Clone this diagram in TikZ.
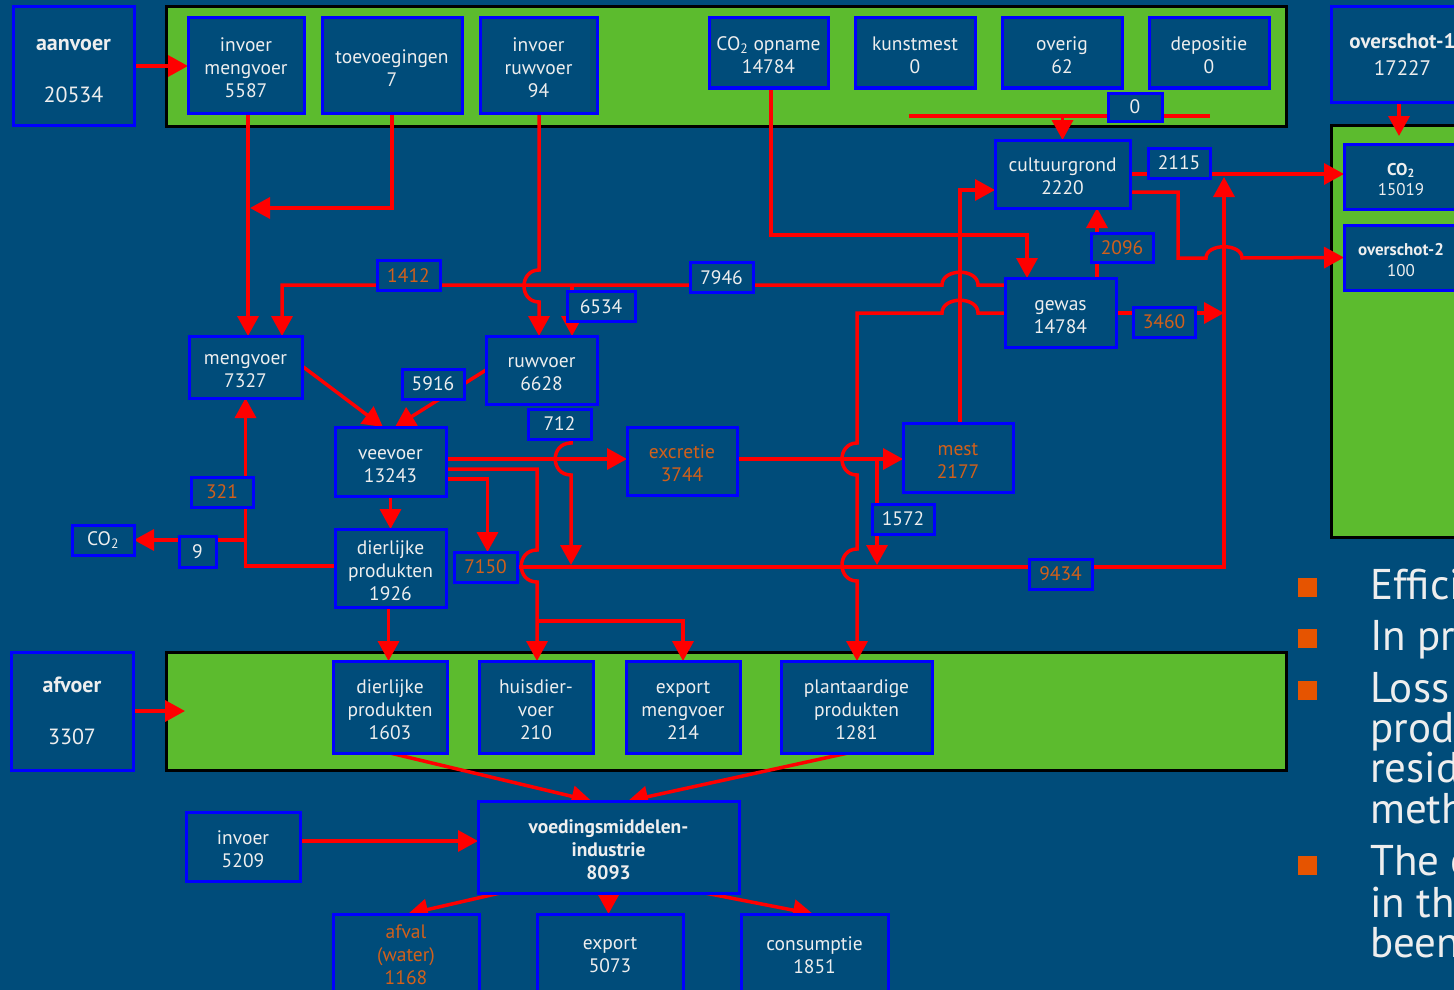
\documentclass[tikz,border=0pt]{standalone}
\usepackage{fontspec}
\setmainfont{PT Sans}
\usetikzlibrary{arrows.meta}
\definecolor{bg}{HTML}{004C7A}
\definecolor{grn}{HTML}{5CBB2E}
\definecolor{bblue}{HTML}{0000FF}
\definecolor{otxt}{HTML}{D2601A}
\definecolor{obul}{HTML}{E65400}
\definecolor{fg}{HTML}{EEEEEE}
\definecolor{lred}{HTML}{FF0000}
\pgfdeclarelayer{bgl}
\pgfdeclarelayer{edges}
\pgfsetlayers{bgl,edges,main}
\newcommand\lift[1][19pt]{\rule{0pt}{#1}}
\tikzset{
  box/.style={draw=bblue, fill=bg, line width=3pt, text=fg, align=center, inner sep=0pt, outer sep=0pt, font=\fontsize{19.5}{23}\selectfont},
  lab/.style={box, minimum width=62pt, minimum height=30pt},
  otext/.style={text=otxt},
  band/.style={fill=grn, draw=black, line width=3pt, inner sep=0pt, outer sep=0pt},
  conn/.style={draw=lred, line width=3.5pt},
  arr/.style={conn, -{Triangle[length=20pt,width=21pt]}},
  bultext/.style={anchor=base west, text=fg, inner sep=0pt, font=\fontsize{43}{50}\selectfont},
  bulsq/.style={fill=obul, draw=none, minimum size=19pt, inner sep=0pt},
}
\begin{document}
\begin{tikzpicture}[x=1pt,y=-1pt]
\useasboundingbox (0,0) rectangle (1454,990);
\begin{pgfonlayer}{bgl}
\fill[bg] (0,0) rectangle (1454,990);
\node[band, minimum width=1120pt, minimum height=119pt] (topband) at (726,66.5) {};
\node[band, minimum width=1120pt, minimum height=118pt] (botband) at (726,711) {};
\node[band, minimum width=143pt, minimum height=412pt] (rpanel) at (1402.5,331) {};
\end{pgfonlayer}

% main boxes
\node[box, minimum width=121pt, minimum height=118pt, font=\fontsize{22}{26}\selectfont] (aanv) at (73.5,66) {\lift[22pt]{\bfseries aanvoer}\\[26pt]20534};
\node[box, minimum width=116pt, minimum height=95pt] (invm) at (246,65.5) {\lift invoer\\mengvoer\\5587};
\node[box, minimum width=140pt, minimum height=95pt] (toev) at (392,65.5) {\lift toevoegingen\\7};
\node[box, minimum width=117pt, minimum height=95pt] (invr) at (538.5,65.5) {\lift invoer\\ruwvoer\\94};
\node[box, minimum width=119pt, minimum height=70pt] (co2op) at (768.5,53) {\lift CO\textsubscript{2} opname\\14784};
\node[box, minimum width=120pt, minimum height=70pt] (kunst) at (915,53) {\lift kunstmest\\0};
\node[box, minimum width=120pt, minimum height=70pt] (overig) at (1062,53) {\lift overig\\62};
\node[box, minimum width=120pt, minimum height=70pt] (depos) at (1209,53) {\lift depositie\\0};
\node[box, minimum width=54pt, minimum height=28pt] (l0) at (1135,107) {0};
\node[box, minimum width=143pt, minimum height=95pt, font=\fontsize{21}{27}\selectfont] (ovs1) at (1402.5,54.5) {{\bfseries overschot-1}\\17227};
\node[box, minimum width=114pt, minimum height=65pt, font=\fontsize{17}{20}\selectfont] (co2) at (1401,176.5) {\lift[18pt]{\bfseries CO\textsubscript{2}}\\15019};
\node[box, minimum width=114pt, minimum height=65pt, font=\fontsize{17}{21}\selectfont] (ovs2) at (1401,257.5) {\lift[17pt]{\bfseries overschot-2}\\100};
\node[box, minimum width=135pt, minimum height=68pt] (cult) at (1062.5,174) {\lift cultuurgrond\\2220};
\node[lab] (l2115) at (1179,163) {2115};
\node[lab, minimum height=29pt, otext] (l2096) at (1122,247.5) {2096};
\node[box, minimum width=111pt, minimum height=69pt] (gewas) at (1060.5,312.5) {\lift gewas\\14784};
\node[lab, otext] (l3460) at (1164,322) {3460};
\node[lab, minimum width=63pt, otext] (l1412) at (408.5,275.5) {1412};
\node[lab, minimum width=63pt] (l7946) at (721.5,277.5) {7946};
\node[lab, minimum width=68pt] (l6534) at (601,306.5) {6534};
\node[box, minimum width=111pt, minimum height=68pt] (ruwv) at (541.5,370) {\lift ruwvoer\\6628};
\node[box, minimum width=113pt, minimum height=62pt] (mengv) at (245.5,367) {\lift mengvoer\\7327};
\node[lab] (l5916) at (433,384) {5916};
\node[box, minimum width=111pt, minimum height=69pt] (veev) at (390.5,461.5) {\lift veevoer\\13243};
\node[lab, minimum width=63pt] (l712) at (559.5,424) {712};
\node[box, minimum width=110pt, minimum height=68pt, otext] (excr) at (682,461) {\lift excretie\\3744};
\node[box, minimum width=110pt, minimum height=69pt, otext] (mest) at (958,457.5) {\lift mest\\2177};
\node[lab] (l1572) at (903,519) {1572};
\node[lab, minimum width=63pt, otext] (l7150) at (485.5,567) {7150};
\node[lab, minimum width=63pt, otext] (l9434) at (1060.5,574) {9434};
\node[lab, otext] (l321) at (222,492) {321};
\node[lab, minimum width=37pt, minimum height=31pt] (l9) at (197.5,551.5) {9};
\node[lab] (co2l) at (103,540) {CO\textsubscript{2}};
\node[box, minimum width=111pt, minimum height=78pt] (dier) at (390.5,568) {\lift dierlijke\\produkten\\1926};
\node[box, minimum width=122pt, minimum height=118pt, font=\fontsize{22}{26}\selectfont] (afv) at (72,711) {{\bfseries afvoer}\\[26pt]3307};
\node[box, minimum width=114pt, minimum height=92pt] (dier2) at (390,707) {\lift dierlijke\\produkten\\1603};
\node[box, minimum width=114pt, minimum height=92pt] (huis) at (536,707) {\lift huisdier-\\voer\\210};
\node[box, minimum width=114pt, minimum height=92pt] (expm) at (683,707) {\lift export\\mengvoer\\214};
\node[box, minimum width=151pt, minimum height=92pt] (plant) at (856.5,707) {\lift plantaardige\\produkten\\1281};
\node[box, minimum width=261pt, minimum height=92pt, font=\fontsize{19.5}{23}\selectfont\bfseries] (voed) at (608.5,847) {\lift voedingsmiddelen-\\industrie\\8093};
\node[box, minimum width=114pt, minimum height=69pt] (invo) at (243,846.5) {\lift invoer\\5209};
\node[box, minimum width=146pt, minimum height=82pt, otext] (afval) at (406,955) {afval\\(water)\\1168};
\node[box, minimum width=146pt, minimum height=82pt] (expo) at (610,955) {export\\5073};
\node[box, minimum width=147pt, minimum height=82pt] (cons) at (814.5,955) {consumptie\\1851};

% bullets
\node[bulsq] (q1) at (1307.5,587) {};
\node[bulsq] (q2) at (1307.5,638.5) {};
\node[bulsq] (q3) at (1307.5,690) {};
\node[bulsq] (q4) at (1307.5,865) {};
\node[bultext] (b1) at (1370,599) {Effici};
\node[bultext] (b2) at (1370,650) {In pri};
\node[bultext] (b3) at (1370,702) {Loss};
\node[bultext] (b3b) at (1370,742) {produ};
\node[bultext] (b3c) at (1370,782) {resid};
\node[bultext] (b3d) at (1370,823) {meth};
\node[bultext] (b4) at (1370,875) {The e};
\node[bultext] (b4b) at (1370,917) {in the};
\node[bultext] (b4c) at (1370,957) {been};

\begin{pgfonlayer}{edges}
\coordinate (j1) at (250,208);
\coordinate (j2) at (572,285);
\coordinate (z1) at (909,116);
\coordinate (z2) at (1210,116);
\coordinate (v1) at (1224,313);
\coordinate (v2) at (1224,177);
\coordinate (j4) at (877,459);
\coordinate (j5) at (537,621);
\coordinate (j6) at (245.5,540);
\coordinate (p2) at ([yshift=2.5pt]veev.east);
\coordinate (p3) at ([yshift=2pt]excr.east);
\coordinate (p4) at ([yshift=5.5pt]invo.east);
\coordinate (p5) at ([xshift=2pt]invm.south);

\draw[arr] (aanv.east) -- (aanv.east -| invm.west);
\draw[arr] (p5) -- (p5 |- mengv.north);
\draw[arr] (toev.south) |- (j1);
\draw[arr] ([xshift=0.5pt]invr.south) -- (539,270) .. controls (519,270) and (519,302) .. (539,302) -- ([xshift=-2.5pt]ruwv.north);
\draw[arr] ([yshift=27.5pt]gewas.west) -- (978,285) .. controls (978,268) and (942,268) .. (942,285) -| ([xshift=36.5pt]mengv.north);
\draw[arr] (j2) -- ([xshift=30.5pt]ruwv.north);
\draw[arr] ([yshift=-0.5pt]gewas.west) -- (978,313) .. controls (978,296) and (942,296) .. (942,313) -- (857,313) -- (857,443) .. controls (837,443) and (837,475) .. (857,475) -- (857,549) .. controls (837,549) and (837,581) .. (857,581) -- ([xshift=0.5pt]plant.north);
\draw[arr] ([xshift=2pt]mest.north) |- ([yshift=-16pt]cult.west);
\draw[arr] ([xshift=2.5pt]co2op.south) |- (1027,235) -- ([xshift=-33.5pt]gewas.north);
\draw[conn] (z1) -- (z2);
\draw[arr] (z1 -| cult.north) -- (cult.north);
\draw[arr] (cult.east) -- (cult.east -| co2.west);
\draw[arr] ([yshift=-18pt]cult.east) -- (1178,192) -- (1178,258) -- (1206,258) .. controls (1206,243) and (1242,243) .. (1242,258) -- (ovs2.west);
\draw[arr] ([xshift=36.5pt]gewas.north) -- ([xshift=34.5pt]cult.south);
\draw[arr] ([yshift=-0.5pt]gewas.east) -- (v1);
\draw[arr] (l7150.east) -| (v2);
\draw[arr] (p2) -- (p2 -| excr.west);
\draw[arr] ([xshift=11.5pt]l712.south) -- (571,443) .. controls (550,443) and (550,475) .. (571,475) -- (571,565);
\draw[arr] (p3) -- (p3 -| mest.west);
\draw[arr] (j4) -- (877,565);
\draw[arr] ([yshift=-17.5pt]veev.east) -| ([xshift=2pt]l7150.north);
\draw[arr] ([yshift=-7.5pt]veev.east) -- (537,469) -- (537,550) .. controls (516,550) and (516,582) .. (537,582) -- ([xshift=1pt]huis.north);
\draw[arr] (j5) -| (expm.north);
\draw[arr] (veev.south) -- (dier.north);
\draw[arr] ([yshift=2pt]dier.west) -| (mengv.south);
\draw[arr] (j6) -- (j6 -| co2l.east);
\draw[arr] ([xshift=-2pt]dier.south) -- ([xshift=-1.5pt]dier2.north);
\draw[arr] ([yshift=1pt]mengv.east) -- ([xshift=-7.5pt]veev.north);
\draw[arr] (ruwv.west) -- ([xshift=4.5pt]veev.north);
\draw[arr] (afv.east) -- ([xshift=19pt]botband.west);
\draw[arr] (dier2.south) -- ([xshift=-17pt]voed.north);
\draw[arr] ([xshift=-8.5pt]plant.south) -- ([xshift=19.5pt]voed.north);
\draw[arr] (p4) -- (p4 -| voed.west);
\draw[arr] ([xshift=-108.5pt]voed.south) -- ([xshift=2pt]afval.north);
\draw[arr] (voed.south) -- (voed.south |- expo.north);
\draw[arr] ([xshift=96.5pt]voed.south) -- ([xshift=-1.5pt]cons.north);
\draw[arr] ([xshift=-3.5pt]ovs1.south) -- ([xshift=-2pt,yshift=8pt]co2.north);
\end{pgfonlayer}
\end{tikzpicture}
\end{document}
